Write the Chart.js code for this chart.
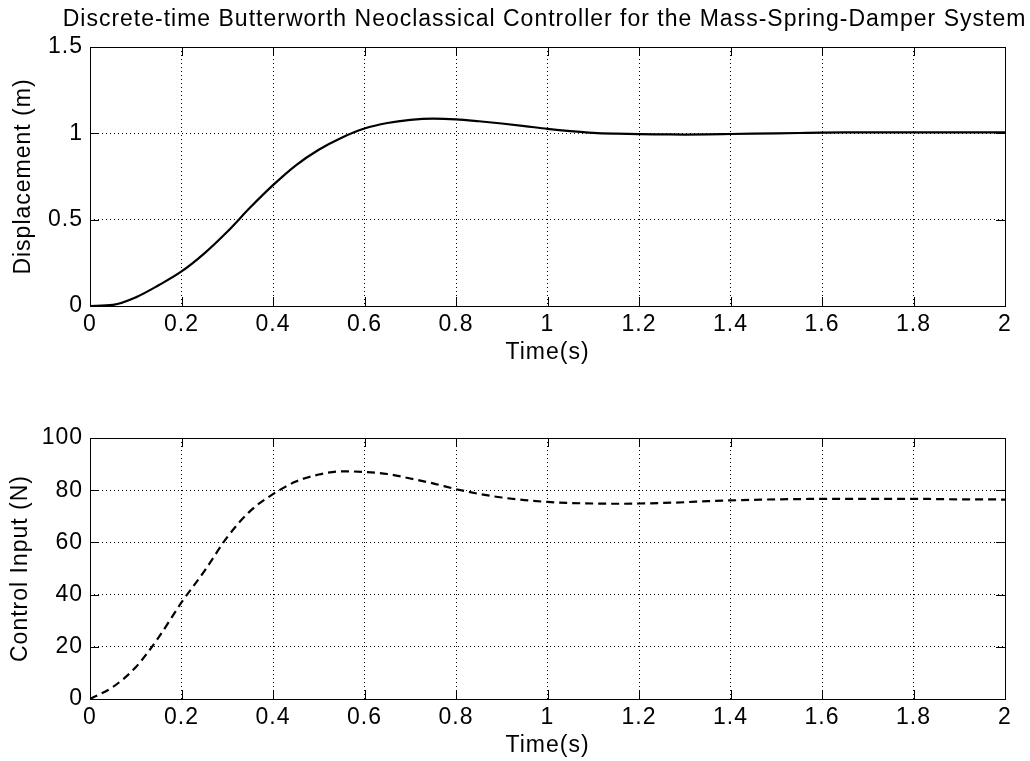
<!DOCTYPE html>
<html>
<head>
<meta charset="utf-8">
<script src="https://cdn.jsdelivr.net/npm/chart.js@4.4.1/dist/chart.umd.min.js"></script>
<style>
    html, body { margin: 0; padding: 0; background: #fff; }
    #wrap { position: relative; width: 1030px; height: 761px; }
    #top_chart { position: absolute; left: 0; top: 0; }
    #bottom_chart { position: absolute; left: 0; top: 380px; }
</style>
</head>
<body>
<div id="wrap">
    <canvas id="top_chart" width="1030" height="380"></canvas>
    <canvas id="bottom_chart" width="1030" height="381"></canvas>
</div>
<script>
// time (s)
const time = [0, 0.05, 0.1, 0.15, 0.2, 0.25, 0.3, 0.35, 0.4, 0.45, 0.5, 0.55, 0.6, 0.65, 0.7, 0.75, 0.8, 0.85, 0.9, 0.95,
    1.0, 1.05, 1.1, 1.15, 1.2, 1.25, 1.3, 1.35, 1.4, 1.45, 1.5, 1.55, 1.6, 1.65, 1.7, 1.75, 1.8, 1.85, 1.9, 1.95, 2.0];
// displacement (m)
const displacement = [0, 0.006, 0.05, 0.12, 0.2, 0.305, 0.43, 0.57, 0.7, 0.815, 0.905, 0.975, 1.028, 1.06, 1.078, 1.085, 1.081, 1.07, 1.057, 1.042,
    1.026, 1.013, 1.003, 0.998, 0.995, 0.994, 0.993, 0.994, 0.996, 0.998, 1.0, 1.002, 1.004, 1.005, 1.005, 1.005, 1.005, 1.005, 1.005, 1.005, 1.005];
// control input (N)
const controlInput = [0, 4.6, 12.2, 23.6, 37, 49, 62, 72, 78.5, 83.3, 86, 87.2, 87, 86.2, 84.5, 82.6, 80.4, 78.6, 77.2, 76.2,
    75.5, 75.1, 74.9, 74.8, 74.9, 75.1, 75.4, 75.8, 76.1, 76.3, 76.5, 76.6, 76.7, 76.7, 76.7, 76.7, 76.7, 76.6, 76.5, 76.5, 76.4];

const xTicks = [0, 0.2, 0.4, 0.6, 0.8, 1, 1.2, 1.4, 1.6, 1.8, 2];
const topYTicks = [0, 0.5, 1, 1.5];
const bottomYTicks = [0, 20, 40, 60, 80, 100];
const figTitle = 'Discrete-time Butterworth Neoclassical Controller for the Mass-Spring-Damper System';

Chart.defaults.font.family = "'Liberation Sans', Arial, sans-serif";
Chart.defaults.font.size = 23;
Chart.defaults.color = '#000';

// the original text is a little wider than Arial
const wideText = {
    id: 'wideText',
    beforeUpdate(chart) { chart.ctx.letterSpacing = '1px'; },
    beforeDraw(chart) { chart.ctx.letterSpacing = '1px'; }
};

// MATLAB style box with inward tick marks (+ axes title centred over the plot)
const axesBox = {
    id: 'axesBox',
    afterDraw(chart, args, opts) {
        const ctx = chart.ctx;
        const a = chart.chartArea;
        const xs = chart.scales.x;
        const ys = chart.scales.y;
        const len = 9;
        ctx.save();
        ctx.strokeStyle = '#000';
        ctx.lineWidth = 1;
        ctx.beginPath();
        xTicks.forEach(function (v) {
            const px = Math.round(xs.getPixelForValue(v)) + 0.5;
            ctx.moveTo(px, a.bottom);
            ctx.lineTo(px, a.bottom - len);
            ctx.moveTo(px, a.top);
            ctx.lineTo(px, a.top + len);
        });
        ys.ticks.forEach(function (t) {
            const py = Math.round(ys.getPixelForValue(t.value)) + 0.5;
            ctx.moveTo(a.left, py);
            ctx.lineTo(a.left + len, py);
            ctx.moveTo(a.right, py);
            ctx.lineTo(a.right - len, py);
        });
        ctx.stroke();
        ctx.strokeRect(Math.round(a.left) + 0.5, Math.round(a.top) + 0.5, Math.round(a.right - a.left), Math.round(a.bottom - a.top));
        if (opts.text) {
            ctx.fillStyle = '#000';
            ctx.font = "23px 'Liberation Sans', Arial, sans-serif";
            ctx.textAlign = 'center';
            ctx.textBaseline = 'middle';
            ctx.fillText(opts.text, (a.left + a.right) / 2 - 3, 19.5);
        }
        ctx.restore();
    }
};

function makePoints(ys) {
    return time.map(function (t, i) { return { x: t, y: ys[i] }; });
}

function makeOptions(yTicks, yTitle, yTitlePad, pad, titleText) {
    return {
        responsive: false,
        animation: false,
        layout: { padding: pad },
        plugins: {
            legend: { display: false },
            tooltip: { enabled: false },
            title: { display: false },
            axesBox: { text: titleText }
        },
        scales: {
            x: {
                type: 'linear',
                min: 0,
                max: 2,
                afterFit: function (s) { s.height = 60; },
                afterBuildTicks: function (s) { s.ticks = xTicks.map(function (v) { return { value: v }; }); },
                ticks: {
                    autoSkip: false,
                    maxRotation: 0,
                    padding: 5,
                    callback: function (v) { return String(Number(v.toFixed(1))); }
                },
                grid: { color: '#000', lineWidth: 1, drawTicks: false },
                border: { display: false, dash: [1, 3] },
                title: { display: true, text: 'Time(s)', padding: { top: 0, bottom: 0 } }
            },
            y: {
                min: yTicks[0],
                max: yTicks[yTicks.length - 1],
                afterFit: function (s) { s.width = 86; },
                afterBuildTicks: function (s) { s.ticks = yTicks.map(function (v) { return { value: v }; }); },
                ticks: {
                    padding: 7,
                    callback: function (v) { return String(v); }
                },
                grid: { color: '#000', lineWidth: 1, drawTicks: false },
                border: { display: false, dash: [1, 3] },
                title: { display: true, text: yTitle, padding: { top: yTitlePad, bottom: 0 } }
            }
        }
    };
}

new Chart(document.querySelector('#top_chart').getContext('2d'), {
    type: 'line',
    data: {
        datasets: [{
            data: makePoints(displacement),
            borderColor: '#000',
            borderWidth: 2.2,
            pointRadius: 0,
            cubicInterpolationMode: 'monotone'
        }]
    },
    options: makeOptions(topYTicks, 'Displacement (m)', 6.2, { top: 47, left: 4, right: 25, bottom: 14 }, figTitle),
    plugins: [wideText, axesBox]
});

new Chart(document.querySelector('#bottom_chart').getContext('2d'), {
    type: 'line',
    data: {
        datasets: [{
            data: makePoints(controlInput),
            borderColor: '#000',
            borderWidth: 2.2,
            borderDash: [8, 5],
            pointRadius: 0,
            cubicInterpolationMode: 'monotone'
        }]
    },
    options: makeOptions(bottomYTicks, 'Control Input (N)', 3.2, { top: 58, left: 4, right: 25, bottom: 2 }, ''),
    plugins: [wideText, axesBox]
});
</script>
</body>
</html>
